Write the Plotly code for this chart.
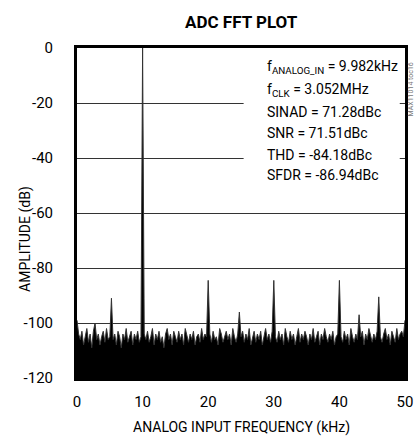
import plotly.graph_objects as go

# ---- data ----
bin_khz = 0.25  # FFT bin spacing used for the x positions
amplitude_db = [
    -99, -104, -106, -103, -108, -105, -102, -107, -104, -109, -103, -100, -106, -104, -108, -105, -103, -107, -102, -106,
    -105, -91, -106, -104, -108, -103, -105, -109, -104, -106, -102, -107, -105, -103, -108, -104, -106, -103, -107, -105,
    0, -104, -106, -103, -107, -105, -102, -108, -104, -106, -103, -107, -105, -109, -104, -102, -106, -104, -108, -103,
    -105, -107, -103, -106, -104, -108, -102, -105, -107, -104, -106, -103, -108, -105, -104, -107, -102, -106, -104, -105,
    -84.5, -104, -107, -103, -106, -105, -108, -102, -104, -107, -105, -103, -106, -104, -108, -102, -105, -107, -104, -96,
    -105, -103, -107, -104, -106, -102, -108, -105, -103, -107, -104, -106, -103, -108, -105, -102, -106, -104, -107, -103,
    -84.5, -105, -107, -103, -106, -104, -108, -102, -105, -107, -103, -106, -104, -108, -105, -102, -107, -104, -106, -103,
    -105, -108, -104, -106, -102, -107, -105, -103, -108, -104, -106, -102, -105, -107, -104, -106, -103, -108, -105, -104,
    -84.5, -105, -107, -103, -106, -104, -108, -102, -105, -107, -104, -106, -97, -105, -103, -108, -104, -106, -102, -105,
    -107, -104, -106, -103, -90.5, -105, -107, -104, -102, -106, -104, -108, -103, -105, -107, -102, -106, -104, -103, -105,
    -99,
]
freq_khz = [i * bin_khz for i in range(len(amplitude_db))]

x_ticks = [0, 10, 20, 30, 40, 50]
x_tick_labels = ["0", "10", "20", "30", "40", "50"]
y_ticks = [0, -20, -40, -60, -80, -100, -120]
y_tick_labels = ["0", "-20", "-40", "-60", "-80", "-100", "-120"]

info_lines = [
    "f<sub>ANALOG_IN</sub> = 9.982kHz",
    "f<sub>CLK</sub> = 3.052MHz",
    "SINAD = 71.28dBc",
    "SNR = 71.51dBc",
    "THD = -84.18dBc",
    "SFDR = -86.94dBc",
]
info_y = [-6.9, -15.3, -23.3, -30.9, -38.9, -46.2]

FONT = "Roboto, Liberation Sans, sans-serif"

fig = go.Figure()
fig.add_trace(go.Scatter(
    x=[freq_khz[0], freq_khz[-1]], y=[-120, -120], mode="lines",
    line=dict(width=0, color="black"), showlegend=False, hoverinfo="skip",
))
fig.add_trace(go.Scatter(
    x=freq_khz, y=amplitude_db, mode="lines",
    line=dict(color="#333333", width=1), fill="tonexty", fillcolor="black",
    showlegend=False,
))

# white box behind the info text
fig.add_shape(type="rect", x0=25.4, x1=49.2, y0=-53.5, y1=-1.5,
              fillcolor="white", line=dict(width=0), layer="above")

for txt, yy in zip(info_lines, info_y):
    fig.add_annotation(x=28.7, y=yy, text=txt, showarrow=False, xanchor="left",
                       yanchor="middle", font=dict(family=FONT, size=14, color="black"))

fig.add_annotation(xref="paper", yref="paper", x=0.503, y=1.079, text="<b>ADC FFT PLOT</b>",
                   xanchor="center", yanchor="middle",
                   showarrow=False, font=dict(family=FONT, size=17, color="black"))
fig.add_annotation(xref="paper", yref="paper", x=0.503, y=-0.1515, text="ANALOG INPUT FREQUENCY (kHz)",
                   xanchor="center", yanchor="middle",
                   showarrow=False, font=dict(family=FONT, size=14, color="black"))
fig.add_annotation(xref="paper", yref="paper", x=-0.159, y=0.421, text="AMPLITUDE (dB)",
                   xanchor="center", yanchor="middle",
                   textangle=-90, showarrow=False, font=dict(family=FONT, size=14, color="black"))
fig.add_annotation(xref="paper", yref="paper", x=1.017, y=0.873, text="MAX11014 toc16",
                   xanchor="center", yanchor="middle",
                   textangle=-90, showarrow=False, font=dict(family=FONT, size=7, color="#777777"))

fig.update_layout(
    width=415, height=436,
    margin=dict(l=77, r=10, t=48, b=58),
    paper_bgcolor="white", plot_bgcolor="white",
    font=dict(family=FONT, size=15, color="black"),
    showlegend=False,
    xaxis=dict(range=[0, 50], tickvals=x_ticks, ticktext=x_tick_labels, showgrid=False,
               zeroline=False, showline=True, linewidth=3, linecolor="black", mirror=True,
               ticks="", ticklabelstandoff=8, automargin=False),
    yaxis=dict(range=[-120, 0], tickvals=y_ticks, ticktext=y_tick_labels, showgrid=True,
               gridcolor="#333333", gridwidth=1.2, zeroline=False, showline=True, linewidth=3,
               linecolor="black", mirror=True, ticks="", ticklabelstandoff=18, automargin=False),
)

fig.write_html("out.html", post_script="document.body.style.margin='0px';",
               config={"displayModeBar": False})
